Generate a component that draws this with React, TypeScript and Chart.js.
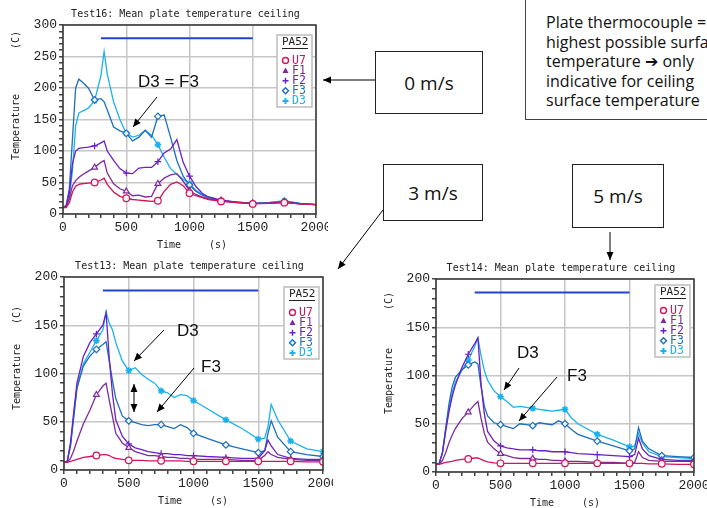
import React, { useEffect, useRef } from 'react';
import { Chart, registerables } from 'chart.js';

Chart.register(...registerables);

// ---------- shared series info ----------
const SERIES_NAMES = ['U7', 'F1', 'F2', 'F3', 'D3'];
const SERIES_COLORS = ['#d4145a', '#7e2a9e', '#6a20c8', '#1f6fbf', '#1ab2ee'];
const SERIES_MARKERS = ['circle', 'triangle', 'cross', 'rectRot', 'star'];
const REF_LINE_START = 300;
const REF_LINE_END = 1500;

// ---------- Test16 (0 m/s) ----------
const T16 = [0, 25, 50, 75, 100, 125, 150, 200, 250, 300, 325, 350, 400, 450, 500, 550, 600, 650, 700, 750, 800, 850, 900, 950, 1000, 1050, 1100, 1150, 1250, 1375, 1500, 1625, 1750, 1875, 2000];
const U7_16 = [10, 10, 18, 35, 44, 47, 48, 49, 50, 54, 57, 47, 35, 28, 25, 23, 22, 21, 20, 21, 36, 47, 51, 45, 33, 29, 26, 23, 20, 18, 16, 17, 18, 16, 15];
const F1_16 = [10, 11, 25, 45, 53, 58, 62, 68, 74, 82, 85, 65, 48, 40, 36, 29, 30, 27, 28, 48, 57, 62, 64, 52, 37, 31, 27, 24, 21, 18, 17, 17, 19, 16, 15];
const F2_16 = [10, 12, 35, 80, 100, 104, 105, 106, 108, 113, 116, 100, 85, 72, 65, 64, 73, 74, 74, 83, 97, 103, 118, 82, 60, 44, 33, 27, 22, 19, 17, 17, 19, 16, 15];
const F3_16 = [10, 14, 40, 120, 200, 214, 210, 200, 181, 183, 178, 165, 138, 132, 128, 116, 122, 133, 122, 155, 157, 122, 85, 60, 46, 36, 30, 26, 21, 19, 17, 18, 20, 17, 15];
const D3_16 = [10, 12, 25, 70, 140, 160, 163, 168, 180, 220, 258, 222, 178, 150, 128, 122, 125, 133, 125, 110, 90, 72, 63, 55, 48, 38, 31, 27, 21, 19, 17, 18, 21, 17, 15];
const REF_16 = 279;

// ---------- Test13 (3 m/s) ----------
const T13 = [0, 25, 50, 75, 100, 150, 200, 250, 300, 325, 350, 375, 400, 450, 500, 550, 600, 650, 700, 750, 800, 850, 900, 950, 1000, 1100, 1250, 1375, 1500, 1550, 1575, 1600, 1650, 1750, 1875, 2000];
const U7_13 = [8, 8, 9, 10, 11, 13, 14, 15, 16, 16, 15, 13, 12, 11, 10, 10, 10, 9.5, 9.5, 9.5, 9.5, 9.5, 9.5, 9, 9, 9, 9, 9, 9, 9, 9, 9, 9, 9, 8.5, 8.5];
const F1_13 = [8, 8, 12, 20, 30, 48, 62, 78, 87, 90, 72, 55, 38, 28, 23, 19, 17, 15, 15, 14, 13, 13, 12, 12, 11, 11, 11, 10, 10, 15, 19, 16, 13, 11, 10, 10];
const F2_13 = [8, 9, 28, 60, 90, 118, 132, 141, 150, 163, 115, 78, 52, 35, 27, 23, 21, 19, 18, 17, 17, 16, 16, 15, 15, 14, 13, 12, 12, 20, 31, 25, 16, 12, 11, 11];
const F3_13 = [8, 9, 25, 55, 85, 108, 118, 125, 130, 133, 112, 92, 74, 56, 51, 49, 47, 46, 47, 47, 45, 43, 47, 44, 38, 33, 26, 22, 18, 20, 38, 51, 34, 19, 16, 14];
const D3_13 = [8, 9, 25, 55, 85, 110, 122, 134, 145, 164, 152, 145, 132, 113, 103, 106, 99, 94, 90, 82, 80, 75, 78, 77, 72, 64, 52, 43, 32, 33, 45, 68, 52, 30, 22, 19];
const REF_13 = 186;

// ---------- Test14 (5 m/s) ----------
const T14 = [0, 25, 50, 75, 100, 125, 150, 200, 250, 300, 325, 350, 375, 400, 450, 500, 550, 600, 650, 700, 750, 800, 850, 900, 950, 1000, 1050, 1100, 1250, 1375, 1500, 1540, 1570, 1600, 1650, 1750, 1875, 2000];
const U7_14 = [8, 8, 9, 10, 10.5, 11, 12, 13, 13.5, 14.5, 14.5, 13, 11.5, 10.5, 9.5, 9, 9, 9, 9, 9, 9, 9, 9, 9, 9, 9, 9, 9, 9, 9, 9, 9, 9, 9, 8.5, 8.5, 8, 8];
const F1_14 = [8, 8, 12, 20, 30, 38, 45, 55, 62, 70, 73, 55, 40, 31, 24, 19, 17, 15, 14, 14, 14, 13, 13, 12, 12, 11, 11, 11, 10, 10, 9, 10, 21, 15, 12, 11, 11, 11];
const F2_14 = [8, 9, 20, 42, 62, 78, 90, 108, 122, 133, 139, 90, 60, 42, 32, 27, 25, 24, 23, 23, 23, 22, 22, 21, 21, 21, 20, 19, 18, 17, 16, 18, 35, 24, 17, 13, 12, 12];
const F3_14 = [8, 9, 20, 45, 70, 88, 98, 106, 111, 114, 112, 88, 68, 58, 51, 49, 47, 45, 50, 49, 48, 51, 50, 49, 53, 50, 44, 39, 32, 27, 22, 24, 46, 32, 24, 17, 16, 15];
const D3_14 = [8, 9, 20, 45, 65, 82, 93, 105, 116, 130, 139, 120, 105, 95, 84, 78, 73, 67, 68, 67, 66, 65, 64, 63, 64, 65, 56, 50, 39, 33, 26, 27, 40, 30, 21, 16, 15, 14];
const REF_14 = 186;

const MARKERS_16 = [250, 500, 750, 1000, 1250, 1500, 1750];
const MARKERS_ALL = [250, 500, 750, 1000, 1250, 1500, 1750, 2000];

type Spec = {
  left: number; top: number; w: number; h: number;
  yW: number; xH: number; padT: number; padR: number;
  yMax: number; title: string;
  times: number[]; values: number[][]; refY: number; markers: number[];
  tempY: number; cY: number; legendTop: number;
};

const SPECS: Spec[] = [
  { left: 0, top: 0, w: 328, h: 252, yW: 63, xH: 38, padT: 25, padR: 12, yMax: 300,
    title: 'Test16: Mean plate temperature ceiling', times: T16,
    values: [U7_16, F1_16, F2_16, F3_16, D3_16], refY: REF_16, markers: MARKERS_16,
    tempY: 102, cY: 15, legendTop: 10 },
  { left: 0, top: 255, w: 333, h: 253, yW: 64, xH: 38, padT: 22, padR: 10, yMax: 200,
    title: 'Test13: Mean plate temperature ceiling', times: T13,
    values: [U7_13, F1_13, F2_13, F3_13, D3_13], refY: REF_13, markers: MARKERS_ALL,
    tempY: 100, cY: 38, legendTop: 10 },
  { left: 380, top: 256, w: 327, h: 252, yW: 56, xH: 36, padT: 23, padR: 13, yMax: 200,
    title: 'Test14: Mean plate temperature ceiling', times: T14,
    values: [U7_14, F1_14, F2_14, F3_14, D3_14], refY: REF_14, markers: MARKERS_ALL,
    tempY: 102, cY: 22, legendTop: 6 },
];

const MONO = '"DejaVu Sans Mono", monospace';
const TICK_FONT = { family: '"Liberation Mono", monospace', size: 13 };

function drawLegendMarker(ctx: CanvasRenderingContext2D, kind: string, x: number, y: number, color: string) {
  const r = 3;
  ctx.save();
  ctx.strokeStyle = color;
  ctx.fillStyle = color;
  ctx.lineWidth = 1.4;
  ctx.beginPath();
  if (kind === 'circle') {
    ctx.arc(x, y, r, 0, Math.PI * 2);
    ctx.stroke();
  } else if (kind === 'triangle') {
    ctx.moveTo(x, y - r);
    ctx.lineTo(x + r, y + r * 0.8);
    ctx.lineTo(x - r, y + r * 0.8);
    ctx.closePath();
    ctx.fill();
  } else if (kind === 'cross') {
    ctx.moveTo(x - r, y); ctx.lineTo(x + r, y);
    ctx.moveTo(x, y - r); ctx.lineTo(x, y + r);
    ctx.stroke();
  } else if (kind === 'rectRot') {
    ctx.moveTo(x, y - r); ctx.lineTo(x + r, y); ctx.lineTo(x, y + r); ctx.lineTo(x - r, y);
    ctx.closePath();
    ctx.stroke();
  } else {
    ctx.lineWidth = 2;
    ctx.moveTo(x - r, y); ctx.lineTo(x + r, y);
    ctx.moveTo(x, y - r); ctx.lineTo(x, y + r);
    ctx.stroke();
  }
  ctx.restore();
}

function makeDecorPlugin(spec: Spec) {
  return {
    id: 'decor',
    afterDraw(chart: any) {
      const ctx: CanvasRenderingContext2D = chart.ctx;
      const a = chart.chartArea;
      ctx.save();
      // frame
      ctx.strokeStyle = '#333';
      ctx.lineWidth = 1.5;
      ctx.strokeRect(a.left, a.top, a.right - a.left, a.bottom - a.top);
      // title
      ctx.fillStyle = '#222';
      ctx.font = `10px ${MONO}`;
      ctx.textAlign = 'center';
      ctx.textBaseline = 'middle';
      ctx.fillText(spec.title, (a.left + a.right) / 2 - 4, a.top - 10.5);
      // x title
      ctx.fillText('Time', a.left + 106, a.bottom + 31);
      ctx.fillText('(s)', a.left + 155, a.bottom + 31);
      // y title
      ctx.save();
      ctx.translate(a.left - 47, a.top + spec.tempY);
      ctx.rotate(-Math.PI / 2);
      ctx.fillText('Temperature', 0, 0);
      ctx.restore();
      ctx.save();
      ctx.translate(a.left - 47, a.top + spec.cY);
      ctx.rotate(-Math.PI / 2);
      ctx.fillText('(C)', 0, 0);
      ctx.restore();
      // legend
      const bx = a.right - 39;
      const by = a.top + spec.legendTop;
      ctx.fillStyle = '#fff';
      ctx.fillRect(bx, by, 35, 72);
      ctx.strokeStyle = '#bdbdbd';
      ctx.lineWidth = 1.5;
      ctx.strokeRect(bx, by, 35, 72);
      ctx.fillStyle = '#222';
      ctx.font = `11px ${MONO}`;
      ctx.textAlign = 'left';
      ctx.fillText('PA52', bx + 5, by + 7.5);
      ctx.strokeStyle = '#222';
      ctx.lineWidth = 1;
      ctx.beginPath();
      ctx.moveTo(bx + 5, by + 13.5);
      ctx.lineTo(bx + 31, by + 13.5);
      ctx.stroke();
      ctx.font = `11.5px ${MONO}`;
      SERIES_NAMES.forEach((name, i) => {
        const yy = by + 25.5 + i * 10.1;
        drawLegendMarker(ctx, SERIES_MARKERS[i], bx + 8.5, yy, SERIES_COLORS[i]);
        ctx.fillStyle = SERIES_COLORS[i];
        ctx.fillText(name, bx + 15, yy + 0.5);
      });
      ctx.restore();
    },
  };
}

function buildConfig(spec: Spec): any {
  const markerSet = new Set(spec.markers);
  const datasets: any[] = SERIES_NAMES.map((name, si) => ({
    label: name,
    data: spec.times.map((t, i) => ({ x: t, y: spec.values[si][i] })),
    borderColor: SERIES_COLORS[si],
    borderWidth: 1.3,
    tension: 0,
    pointStyle: SERIES_MARKERS[si],
    pointRadius: (c: any) => (markerSet.has(spec.times[c.dataIndex]) ? 3.3 : 0),
    pointHoverRadius: 0,
    pointBorderColor: SERIES_COLORS[si],
    pointBackgroundColor: SERIES_MARKERS[si] === 'star' ? SERIES_COLORS[si] : 'rgba(255,255,255,0.9)',
    pointBorderWidth: SERIES_MARKERS[si] === 'star' ? 1.5 : 1.2,
  }));
  datasets.push({
    label: 'ref',
    data: [{ x: REF_LINE_START, y: spec.refY }, { x: REF_LINE_END, y: spec.refY }],
    borderColor: '#2244cc',
    borderWidth: 2,
    pointRadius: 0,
    tension: 0,
  });
  return {
    type: 'line',
    data: { datasets },
    options: {
      animation: false,
      responsive: false,
      maintainAspectRatio: false,
      devicePixelRatio: 1,
      events: [],
      layout: { padding: { left: 0, right: spec.padR, top: spec.padT, bottom: 0 } },
      plugins: { legend: { display: false }, tooltip: { enabled: false }, title: { display: false } },
      scales: {
        x: {
          type: 'linear',
          min: 0,
          max: 2000,
          afterFit: (s: any) => { s.height = spec.xH; s.paddingLeft = 0; s.paddingRight = 0; },
          border: { display: false },
          grid: {
            color: (c: any) => (c.tick && c.tick.value % 500 === 0 ? '#c6c6c6' : 'rgba(0,0,0,0)'),
            tickColor: '#444',
            tickLength: 4,
            lineWidth: 1.5,
          },
          ticks: {
            stepSize: 100,
            autoSkip: false,
            maxRotation: 0,
            padding: 2,
            color: '#222',
            font: TICK_FONT,
            callback: (v: any) => (Number(v) % 500 === 0 ? String(v) : ''),
          },
        },
        y: {
          type: 'linear',
          min: 0,
          max: spec.yMax,
          afterFit: (s: any) => { s.width = spec.yW; s.paddingTop = 0; s.paddingBottom = 0; },
          border: { display: false },
          grid: {
            color: (c: any) => (c.tick && c.tick.value % 50 === 0 ? '#c6c6c6' : 'rgba(0,0,0,0)'),
            tickColor: '#444',
            tickLength: 4,
            lineWidth: 1.5,
          },
          ticks: {
            stepSize: 10,
            autoSkip: false,
            padding: 2,
            color: '#222',
            font: TICK_FONT,
            callback: (v: any) => (Number(v) % 50 === 0 ? String(v) : ''),
          },
        },
      },
    },
    plugins: [makeDecorPlugin(spec)],
  };
}

function PlateChart({ spec }: { spec: Spec }) {
  const ref = useRef<HTMLCanvasElement>(null);
  useEffect(() => {
    const chart = new Chart(ref.current as HTMLCanvasElement, buildConfig(spec));
    return () => chart.destroy();
  }, [spec]);
  return (
    <canvas
      ref={ref}
      width={spec.w}
      height={spec.h}
      style={{ position: 'absolute', left: spec.left, top: spec.top, width: spec.w, height: spec.h }}
    />
  );
}

function Arrow({ x1, y1, x2, y2, both = false }: { x1: number; y1: number; x2: number; y2: number; both?: boolean }) {
  const head = 8;
  const hw = 3.5;
  const tri = (x: number, y: number, ang: number) => {
    const bx = x - head * Math.cos(ang);
    const by = y - head * Math.sin(ang);
    const px = hw * Math.sin(ang);
    const py = hw * Math.cos(ang);
    return `${x},${y} ${bx + px},${by - py} ${bx - px},${by + py}`;
  };
  const ang = Math.atan2(y2 - y1, x2 - x1);
  return (
    <g>
      <line x1={x1} y1={y1} x2={x2} y2={y2} stroke="#000" strokeWidth={1} />
      <polygon points={tri(x2, y2, ang)} fill="#000" />
      {both && <polygon points={tri(x1, y1, ang + Math.PI)} fill="#000" />}
    </g>
  );
}

const boxStyle: React.CSSProperties = {
  position: 'absolute',
  border: '1px solid #222',
  background: '#fff',
  boxSizing: 'border-box',
  display: 'flex',
  alignItems: 'center',
  justifyContent: 'center',
  fontFamily: '"Open Sans", "DejaVu Sans", sans-serif',
  fontSize: 19,
  color: '#111',
};

const NOTE_LINES = [
  'Plate thermocouple =',
  'highest possible surface',
  'temperature \u2794 only',
  'indicative for ceiling',
  'surface temperature',
];

export default function App() {
  const annFont = '"Liberation Sans", Arial, sans-serif';
  return (
    <div style={{ position: 'absolute', left: 0, top: 0, width: 707, height: 508, overflow: 'hidden', background: '#fff' }}>
      {SPECS.map((s, i) => (
        <PlateChart key={i} spec={s} />
      ))}
      <div style={{ ...boxStyle, left: 375, top: 51, width: 108, height: 63 }}>0 m/s</div>
      <div style={{ ...boxStyle, left: 383, top: 164, width: 100, height: 57 }}>3 m/s</div>
      <div style={{ ...boxStyle, left: 572, top: 164, width: 92, height: 64 }}>5 m/s</div>
      <div
        style={{
          position: 'absolute', left: 525, top: -2, width: 220, height: 122,
          border: '1px solid #444', boxSizing: 'border-box', background: '#fff',
          padding: '14px 0 0 20px', fontFamily: '"Open Sans", "DejaVu Sans", sans-serif',
          fontSize: 16, lineHeight: '19.6px', color: '#111', whiteSpace: 'nowrap',
        }}
      >
        {NOTE_LINES.map((l, i) => (
          <div key={i}>{l}</div>
        ))}
      </div>
      <svg width={707} height={508} style={{ position: 'absolute', left: 0, top: 0, pointerEvents: 'none' }}>
        <Arrow x1={375} y1={80} x2={323} y2={80} />
        <Arrow x1={383} y1={210} x2={338} y2={269} />
        <Arrow x1={610} y1={232} x2={610} y2={260} />
        <text x={138} y={83} fontFamily={annFont} fontSize={17} dominantBaseline="middle" fill="#111">D3 = F3</text>
        <Arrow x1={157} y1={97} x2={133} y2={127} />
        <text x={177} y={332} fontFamily={annFont} fontSize={17} dominantBaseline="middle" fill="#111">D3</text>
        <Arrow x1={164} y1={330} x2={134} y2={361} />
        <text x={201} y={368} fontFamily={annFont} fontSize={17} dominantBaseline="middle" fill="#111">F3</text>
        <Arrow x1={194} y1={368} x2={157} y2={412} />
        <Arrow x1={134} y1={384} x2={134} y2={412} both />
        <text x={517} y={354} fontFamily={annFont} fontSize={17} dominantBaseline="middle" fill="#111">D3</text>
        <Arrow x1={519} y1={368} x2={504} y2={390} />
        <text x={567} y={377} fontFamily={annFont} fontSize={17} dominantBaseline="middle" fill="#111">F3</text>
        <Arrow x1={557} y1={377} x2={519} y2={421} />
      </svg>
    </div>
  );
}
